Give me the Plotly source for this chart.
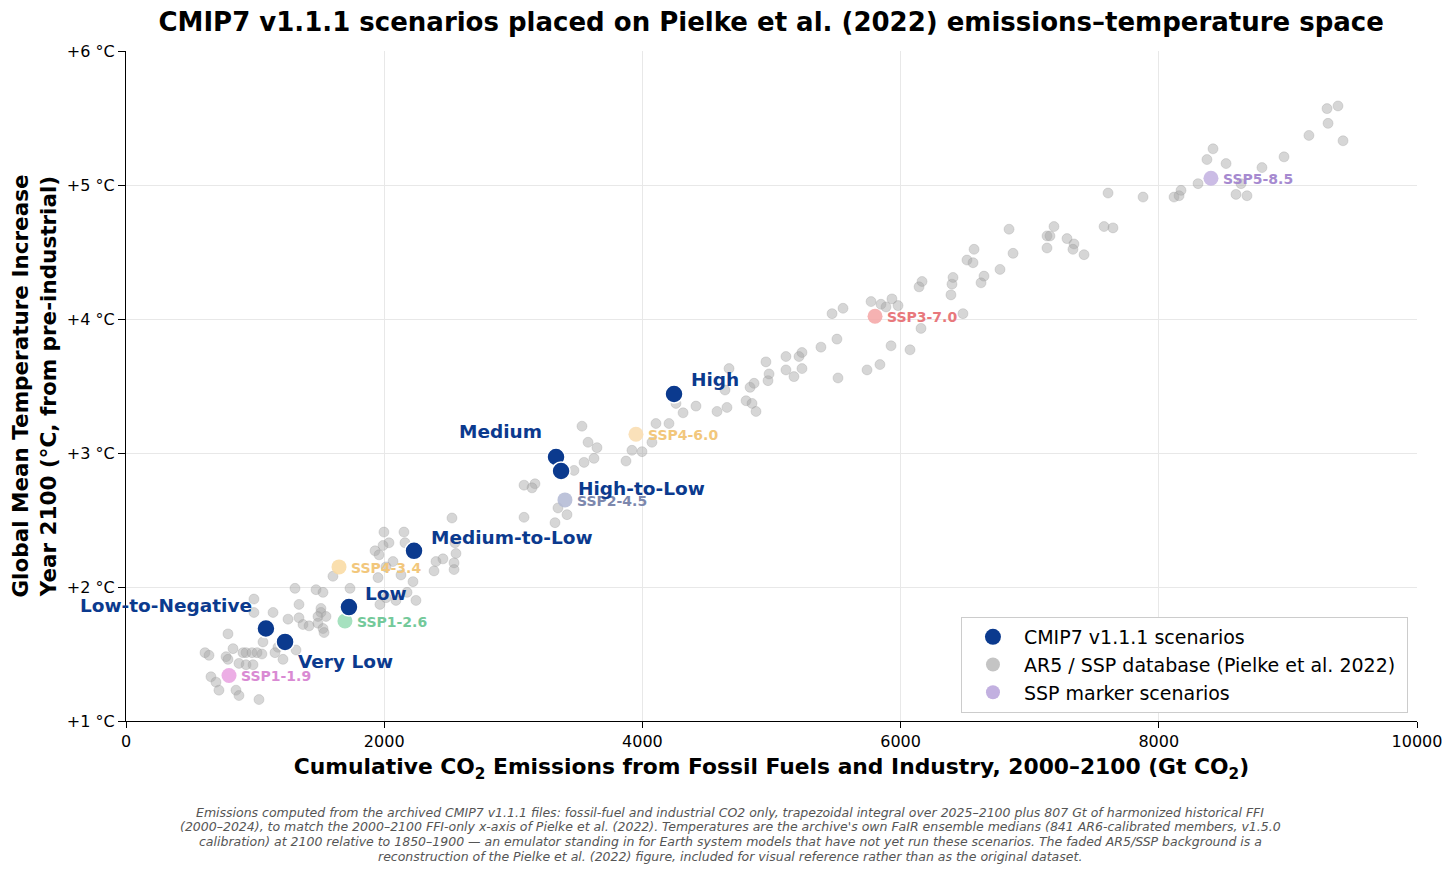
import plotly.graph_objects as go

# ---------------- data ----------------
cmip_names = ["High", "Medium", "High-to-Low", "Medium-to-Low", "Low", "Low-to-Negative", "Very Low"]
cmip_x = [4245, 3331, 3370, 2231, 1727, 1084, 1232]
cmip_y = [3.44, 2.97, 2.866, 2.27, 1.85, 1.69, 1.59]

ssp_names = ["SSP1-1.9", "SSP1-2.6", "SSP4-3.4", "SSP2-4.5", "SSP4-6.0", "SSP3-7.0", "SSP5-8.5"]
ssp_x = [798, 1696, 1650, 3400, 3950, 5802, 8404]
ssp_y = [1.34, 1.746, 2.15, 2.65, 3.14, 4.02, 5.05]
ssp_marker_colors = ["#e9a0e0", "#96dcb4", "#f9d9a0", "#b2b8d4", "#f9dcae", "#f4a4a4", "#c2b0e0"]
ssp_label_colors = ["#d98ad3", "#74c99a", "#f2c77c", "#7d88ad", "#f2c77c", "#e8787c", "#a68ad0"]

gray_x = [2525, 1998, 2153, 2037, 1991, 1929, 1960, 2161, 2556, 2401, 2455, 2541, 2541, 2386, 2068,
          2014, 1952, 2223, 2130, 1603, 1735, 1309, 1472, 1526, 2014, 2091, 2246, 991, 1340, 1139,
          991, 1255, 1340, 1371, 1418, 1510, 1510, 1487, 1549, 1487, 1526, 1534, 790, 1061, 829,
          612, 643, 775, 790, 906, 930, 976, 1015, 1053, 1216, 875, 930, 658, 697, 720,
          852, 875, 1030, 1177, 984,
          3532, 3579, 3648, 3548, 3625, 3470, 3873, 3919, 3997, 4105, 4206, 4074, 4315, 4415, 4578,
          4655, 4260, 3083, 3168, 3145, 3416, 3346, 3083, 3323,
          4640, 4671, 4803, 4849, 4880, 4834, 4865, 4973, 4981, 4957, 5112, 5174, 5236, 5112, 5213,
          5236, 5383, 5507, 5515, 5740, 5840, 5926, 6073, 6158, 5469, 5554, 5771, 5848, 5887, 5933,
          5980, 6483, 6390, 6143, 6166, 6398, 6623,
          6840, 7188, 7134, 7157, 7289, 7343, 7335, 7421, 7134, 6871, 7576, 7645, 6569, 6514, 6561,
          6770, 6646, 6406,
          9303, 9388, 9311, 9163, 9427, 8970, 8799, 8420, 8373, 8521, 8304, 8637, 8598, 8683, 8118,
          8157, 8172, 7607, 7878,
          2548, 2177, 1967, 1154, 1317]
gray_y = [2.515, 2.41, 2.41, 2.33, 2.31, 2.27, 2.24, 2.33, 2.25, 2.19, 2.21, 2.18, 2.13, 2.12, 2.19,
          2.15, 2.07, 2.04, 2.09, 2.08, 1.99, 1.99, 1.98, 1.96, 1.92, 1.90, 1.90, 1.91, 1.87, 1.81,
          1.81, 1.76, 1.77, 1.72, 1.71, 1.84, 1.81, 1.78, 1.78, 1.73, 1.69, 1.66, 1.65, 1.59, 1.54,
          1.51, 1.49, 1.48, 1.46, 1.51, 1.51, 1.51, 1.51, 1.50, 1.46, 1.43, 1.42, 1.33, 1.29, 1.23,
          1.23, 1.19, 1.16, 1.55, 1.42,
          3.20, 3.08, 3.04, 2.93, 2.96, 2.87, 2.94, 3.02, 3.01, 3.22, 3.22, 3.08, 3.30, 3.35, 3.31,
          3.34, 3.37, 2.76, 2.77, 2.74, 2.54, 2.59, 2.52, 2.48,
          3.47, 3.63, 3.39, 3.37, 3.31, 3.49, 3.52, 3.54, 3.59, 3.68, 3.62, 3.57, 3.63, 3.72, 3.72,
          3.75, 3.79, 3.85, 3.56, 3.62, 3.66, 3.80, 3.77, 3.93, 4.04, 4.08, 4.13, 4.11, 4.09, 4.15,
          4.10, 4.04, 4.18, 4.24, 4.28, 4.26, 4.27,
          4.67, 4.69, 4.62, 4.62, 4.60, 4.56, 4.52, 4.48, 4.53, 4.49, 4.69, 4.68, 4.52, 4.44, 4.42,
          4.37, 4.32, 4.31,
          5.57, 5.59, 5.46, 5.37, 5.33, 5.21, 5.13, 5.27, 5.19, 5.16, 5.01, 5.01, 4.93, 4.92, 4.91,
          4.92, 4.96, 4.94, 4.91,
          2.33, 1.96, 1.87, 1.51, 1.53]

x_ticks = [0, 2000, 4000, 6000, 8000, 10000]
y_ticks = [1, 2, 3, 4, 5, 6]
y_tick_labels = ["+1 °C", "+2 °C", "+3 °C", "+4 °C", "+5 °C", "+6 °C"]

footnote_lines = [
    "Emissions computed from the archived CMIP7 v1.1.1 files: fossil-fuel and industrial CO2 only, trapezoidal integral over 2025–2100 plus 807 Gt of harmonized historical FFI",
    "(2000–2024), to match the 2000–2100 FFI-only x-axis of Pielke et al. (2022). Temperatures are the archive's own FaIR ensemble medians (841 AR6-calibrated members, v1.5.0",
    "calibration) at 2100 relative to 1850–1900 — an emulator standing in for Earth system models that have not yet run these scenarios. The faded AR5/SSP background is a",
    "reconstruction of the Pielke et al. (2022) figure, included for visual reference rather than as the original dataset.",
]

# label placement (pixel offsets from the point)
cmip_label_shift = {
    "High": ("left", 15, 15),
    "Medium": ("right", -12, 26),
    "High-to-Low": ("left", 15, -18),
    "Medium-to-Low": ("left", 15, 13),
    "Low": ("left", 14, 14),
    "Low-to-Negative": ("right", -12, 23),
    "Very Low": ("left", 11, -20),
}

FONT = "DejaVu Sans"
NAVY = "#0b3a8e"
GRAY = "rgba(165,165,165,0.45)"
LAVENDER = "#c2b0e0"

fig = go.Figure()

fig.add_trace(go.Scatter(
    x=gray_x, y=gray_y, mode="markers", showlegend=False,
    marker=dict(size=10, color=GRAY, line=dict(width=0.8, color="rgba(150,150,150,0.35)")),
    hoverinfo="skip",
))
fig.add_trace(go.Scatter(
    x=ssp_x, y=ssp_y, mode="markers", showlegend=False,
    marker=dict(size=15, color=ssp_marker_colors, opacity=0.85, line=dict(width=0)),
    hoverinfo="skip",
))
fig.add_trace(go.Scatter(
    x=cmip_x, y=cmip_y, mode="markers", showlegend=False,
    marker=dict(size=18, color=NAVY, line=dict(width=1.5, color="white")),
))

# legend-only entries
fig.add_trace(go.Scatter(x=[None], y=[None], mode="markers", name="CMIP7 v1.1.1 scenarios",
                         marker=dict(size=17, color=NAVY), legendrank=1))
fig.add_trace(go.Scatter(x=[None], y=[None], mode="markers", name="AR5 / SSP database (Pielke et al. 2022)\u00a0",
                         marker=dict(size=14, color="#c4c4c4"), legendrank=2))
fig.add_trace(go.Scatter(x=[None], y=[None], mode="markers", name="SSP marker scenarios",
                         marker=dict(size=14, color=LAVENDER), legendrank=3))

annotations = []
for n, xv, yv, c in zip(ssp_names, ssp_x, ssp_y, ssp_label_colors):
    annotations.append(dict(x=xv, y=yv, xref="x", yref="y", text=f"<b>{n}</b>", showarrow=False,
                            xanchor="left", yanchor="middle", xshift=10, yshift=-1,
                            font=dict(family=FONT, size=14, color=c)))
for n, xv, yv in zip(cmip_names, cmip_x, cmip_y):
    anc, dx, dy = cmip_label_shift[n]
    annotations.append(dict(x=xv, y=yv, xref="x", yref="y", text=f"<b>{n}</b>", showarrow=False,
                            xanchor=anc, yanchor="middle", xshift=dx, yshift=dy,
                            font=dict(family=FONT, size=18.5, color=NAVY)))

for i, line in enumerate(footnote_lines):
    annotations.append(dict(x=0.468, y=0, xref="paper", yref="paper", yshift=-91 - 14.7 * i,
                            text=f"<i>{line}</i>", showarrow=False, xanchor="center", yanchor="middle",
                            align="center", font=dict(family=FONT, size=12.5, color="#555555")))

fig.update_layout(
    width=1440, height=865,
    margin=dict(l=118, r=31, t=43, b=152, autoexpand=False),
    paper_bgcolor="white", plot_bgcolor="white",
    font=dict(family=FONT, size=16, color="black"),
    title=dict(text="<b>CMIP7 v1.1.1 scenarios placed on Pielke et al. (2022) emissions–temperature space</b>",
               x=0.53, xanchor="center", y=1 - 14 / 865, yanchor="middle",
               font=dict(family=FONT, size=26, color="black")),
    xaxis=dict(range=[0, 10000], tickvals=x_ticks, ticktext=[str(v) for v in x_ticks],
               showgrid=True, gridcolor="#e8e8e8", gridwidth=1, zeroline=False, automargin=False,
               showline=True, linecolor="black", linewidth=1.2, ticks="outside", ticklen=6,
               tickcolor="black", tickfont=dict(size=16),
               title=dict(text="<b>Cumulative CO<sub>2</sub> Emissions from Fossil Fuels and Industry, 2000–2100 (Gt CO<sub>2</sub>)</b>",
                          font=dict(size=21.8), standoff=8)),
    yaxis=dict(range=[1, 6], tickvals=y_ticks, ticktext=y_tick_labels,
               showgrid=True, gridcolor="#e8e8e8", gridwidth=1, zeroline=False, automargin=False,
               showline=True, linecolor="black", linewidth=1.2, ticks="outside", ticklen=7,
               tickcolor="black", tickfont=dict(size=16),
               title=dict(text="<b>Global Mean Temperature Increase<br>Year 2100 (°C, from pre-industrial)</b>",
                          font=dict(size=21.5), standoff=8)),
    legend=dict(x=0.993, xanchor="right", y=0.012, yanchor="bottom",
                bgcolor="white", bordercolor="#cccccc", borderwidth=1,
                font=dict(family=FONT, size=19), traceorder="normal",
                itemwidth=52),
    annotations=annotations,
    showlegend=True,
)

fig.write_html("out.html")
